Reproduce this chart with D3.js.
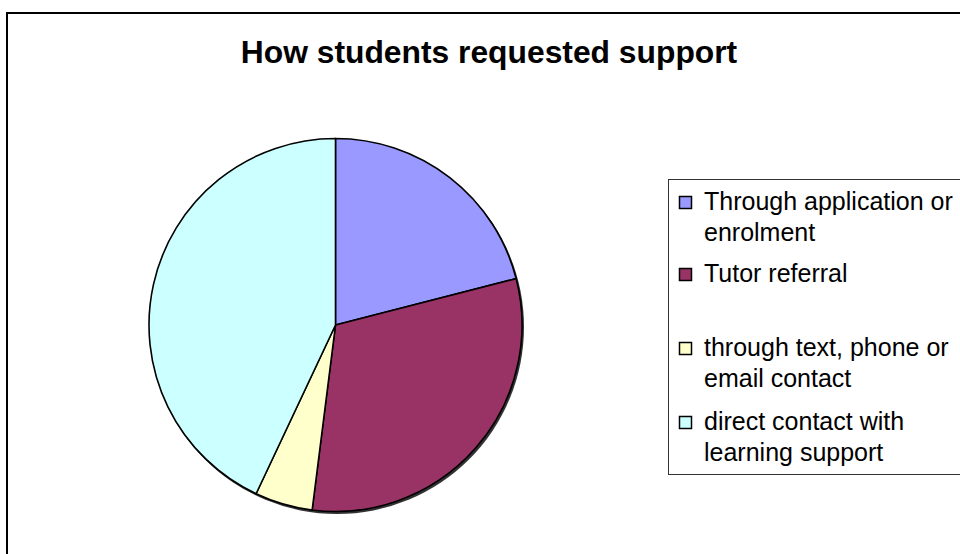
<!DOCTYPE html>
<html>
<head>
<meta charset="utf-8">
<script src="https://cdn.jsdelivr.net/npm/d3@7"></script>
<style>
  html, body { margin: 0; padding: 0; background: #fff; }
  svg { display: block; }
</style>
</head>
<body>
<svg id="chart" width="960" height="554"></svg>
<script>
// Support request channels (share of students, %)
const categories = [
  "Through application or enrolment",
  "Tutor referral",
  "through text, phone or email contact",
  "direct contact with learning support"
];
const values = [21, 31, 5, 43];
const colors = ["#9999FF", "#993366", "#FFFFCC", "#CCFFFF"];
// Legend entries as wrapped lines
const legendLines = [
  ["Through application or", "enrolment"],
  ["Tutor referral"],
  ["through text, phone or", "email contact"],
  ["direct contact with", "learning support"]
];
const title = "How students requested support";

const svg = d3.select("#chart");
const font = "Arial, 'Liberation Sans', Helvetica, sans-serif";

// Outer chart frame (runs off the right and bottom edges)
svg.append("rect")
  .attr("x", 7).attr("y", 13)
  .attr("width", 1000).attr("height", 600)
  .attr("fill", "#fff")
  .attr("stroke", "#000").attr("stroke-width", 2);

// Title
svg.append("text")
  .attr("x", 489).attr("y", 63)
  .attr("text-anchor", "middle")
  .attr("font-family", font)
  .attr("font-weight", "bold")
  .attr("font-size", 31.8)
  .attr("fill", "#000")
  .text(title);

// Pie
const cx = 335.5, cy = 325, r = 186.5;
const pie = d3.pie().sort(null).value(d => d)(values);
const arc = d3.arc().innerRadius(0).outerRadius(r);

const g = svg.append("g").attr("transform", `translate(${cx},${cy})`);

// soft drop shadow beneath the pie
g.append("circle")
  .attr("cx", 1.5).attr("cy", 2)
  .attr("r", r + 0.5)
  .attr("fill", "#333");

g.selectAll("path.slice")
  .data(pie)
  .join("path")
  .attr("class", "slice")
  .attr("d", arc)
  .attr("fill", (d, i) => colors[i])
  .attr("stroke", "#000")
  .attr("stroke-width", 1.6)
  .attr("stroke-linejoin", "round");

// Legend box (runs off the right edge)
svg.append("rect")
  .attr("x", 668.5).attr("y", 179.5)
  .attr("width", 320).attr("height", 295)
  .attr("fill", "#fff")
  .attr("stroke", "#333").attr("stroke-width", 1);

// Baselines for the first line of each legend entry, and line spacing
const entryBaselines = [210, 282, 356, 430];
const lineGap = 31;

const legend = svg.append("g");
categories.forEach((c, i) => {
  const y0 = entryBaselines[i];
  legend.append("rect")
    .attr("x", 679.5).attr("y", y0 - 13.5)
    .attr("width", 12).attr("height", 12)
    .attr("fill", colors[i])
    .attr("stroke", "#000").attr("stroke-width", 1.5);
  const t = legend.append("text")
    .attr("font-family", font)
    .attr("font-size", 25)
    .attr("fill", "#000");
  legendLines[i].forEach((line, j) => {
    t.append("tspan")
      .attr("x", 704)
      .attr("y", y0 + j * lineGap)
      .text(line);
  });
});
</script>
</body>
</html>
